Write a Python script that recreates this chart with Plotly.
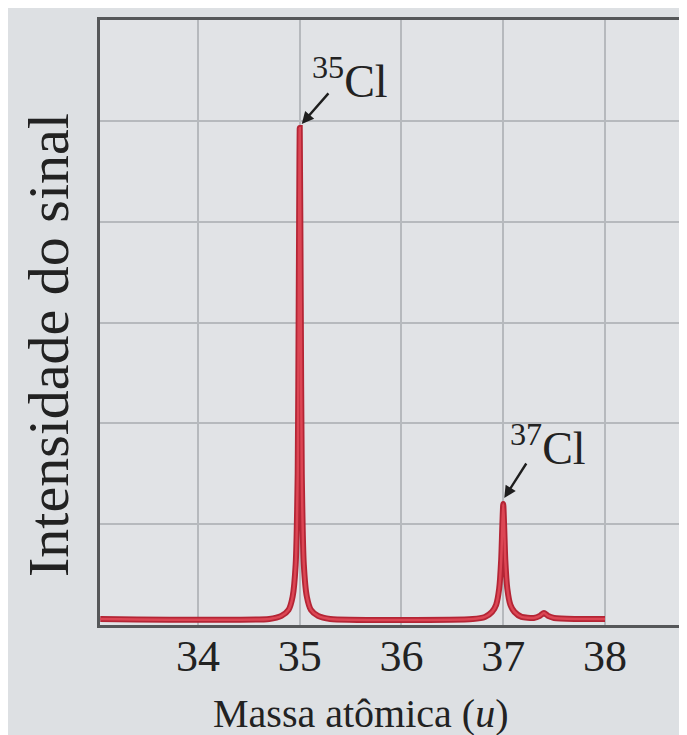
import plotly.graph_objects as go

# Signal trace (mass in u, intensity in gridline units)
mass = [33.04, 34.70, 34.82, 34.89, 34.93, 34.96, 34.98, 34.99, 35.0, 35.01, 35.02,
        35.04, 35.07, 35.11, 35.18, 35.30, 36.70, 36.82, 36.89, 36.93, 36.96, 36.98,
        36.99, 37.0, 37.01, 37.02, 37.04, 37.07, 37.11, 37.18, 37.30, 37.36, 37.40,
        37.44, 37.50, 37.70, 38.00]
signal = [0.06, 0.06, 0.09, 0.15, 0.28, 0.6, 1.5, 3.2, 4.93, 3.2, 1.5,
          0.6, 0.28, 0.15, 0.09, 0.06, 0.06, 0.08, 0.13, 0.2, 0.36, 0.65,
          0.95, 1.20, 0.95, 0.65, 0.36, 0.2, 0.13, 0.08, 0.07, 0.09, 0.12,
          0.09, 0.07, 0.06, 0.06]

x_ticks = [34, 35, 36, 37, 38]
y_grid = [1, 2, 3, 4, 5]

peak_labels = ["<sup>35</sup>Cl", "<sup>37</sup>Cl"]
peak_x = [35.0, 37.0]
peak_y = [4.93, 1.20]

FONT = "Liberation Serif, Times New Roman, serif"
BG = "#dde0e3"
PLOT_BG = "#e1e3e6"
TXT = "#222222"

fig = go.Figure()
fig.add_trace(go.Scatter(x=mass, y=signal, mode="lines",
                         line=dict(color="#b42535", width=6, shape="spline", smoothing=0.6),
                         hoverinfo="skip", showlegend=False))
fig.add_trace(go.Scatter(x=mass, y=signal, mode="lines",
                         line=dict(color="#dc4654", width=2.5, shape="spline", smoothing=0.6),
                         hoverinfo="skip", showlegend=False))

# arrows and labels (pixel offsets relative to the peak tops)
arrow_shift = [(2, 4), (1, 6)]
arrow_tail = [(28, -32), (23, -36)]
text_shift = [(10, 50), (5, 59)]
for lbl, px, py, (sx, sy), (ax, ay), (tx, ty) in zip(peak_labels, peak_x, peak_y,
                                                      arrow_shift, arrow_tail, text_shift):
    fig.add_annotation(x=px, y=py, xref="x", yref="y", text="", showarrow=True,
                       ax=ax, ay=ay, axref="pixel", ayref="pixel",
                       arrowhead=2, arrowsize=1.0, arrowwidth=2.4, arrowcolor="#1e1e1e",
                       xshift=sx, yshift=sy)
    fig.add_annotation(x=px, y=py, xref="x", yref="y", text=lbl, showarrow=False,
                       xanchor="left", yanchor="middle",
                       xshift=tx, yshift=ty, font=dict(family=FONT, size=46, color=TXT))

# axis titles as annotations
fig.add_annotation(text="Massa atômica (<i>u</i>)", xref="paper", yref="paper",
                   x=0.443, y=-0.147, showarrow=False,
                   xanchor="center", yanchor="middle",
                   font=dict(family=FONT, size=40, color=TXT))
fig.add_annotation(text="Intensidade do sinal", xref="paper", yref="paper",
                   x=-0.0886, y=0.4628, showarrow=False,
                   textangle=-90, xanchor="center", yanchor="middle",
                   font=dict(family=FONT, size=58, color=TXT))

fig.update_layout(
    width=687, height=735,
    margin=dict(l=92, r=8, t=12, b=118),
    paper_bgcolor=BG, plot_bgcolor=PLOT_BG,
    showlegend=False,
    xaxis=dict(range=[33.037, 38.806], tickvals=x_ticks, ticktext=[str(v) for v in x_ticks],
               showgrid=True, gridcolor="#b6b9bd", gridwidth=2,
               showline=True, linecolor="#555759", linewidth=3, mirror=True,
               ticks="", zeroline=False, ticklabelstandoff=-10,
               tickfont=dict(family=FONT, size=44, color=TXT)),
    yaxis=dict(range=[0, 6], tickvals=y_grid, showticklabels=False,
               showgrid=True, gridcolor="#b6b9bd", gridwidth=2,
               showline=True, linecolor="#555759", linewidth=3, mirror=False,
               ticks="", zeroline=False),
)

fig.write_html("out.html")
